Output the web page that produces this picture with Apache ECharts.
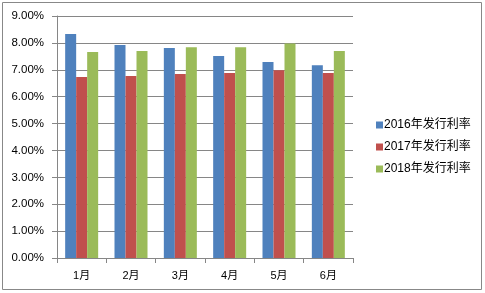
<!DOCTYPE html>
<html><head><meta charset="utf-8">
<script src="https://cdn.jsdelivr.net/npm/echarts@6/dist/echarts.min.js"></script>
<style>html,body{margin:0;padding:0;background:#fff}#c{width:485px;height:293px}</style>
</head><body><div id="c"></div>
<script>
const categories = ['1月','2月','3月','4月','5月','6月'];
const seriesNames = ['2016年发行利率','2017年发行利率','2018年发行利率'];
const s2016 = [8.33, 7.92, 7.81, 7.51, 7.29, 7.17];
const s2017 = [6.73, 6.77, 6.84, 6.88, 6.98, 6.88];
const s2018 = [7.66, 7.70, 7.84, 7.84, 7.98, 7.70];
const colors = ['#4F81BD','#C0504D','#9BBB59'];
const yTicks = {min: 0, max: 9, interval: 1};

const chart = echarts.init(document.getElementById('c'));
const font = '"Liberation Sans", "Noto Sans CJK SC", sans-serif';
chart.setOption({
  animation: false,
  graphic: [{type:'rect', shape:{x:2.5,y:2.5,width:479,height:287}, style:{fill:'none', stroke:'#888', lineWidth:1}}],
  grid: {left: 57, right: 132, top: 16, bottom: 35},
  legend: {
    orient: 'vertical', left: 371, top: 114, itemWidth: 7, itemHeight: 7, itemGap: 10,
    icon: 'rect',
    textStyle: {fontSize: 12, color: '#000', fontFamily: font, padding:[0,0,0,-4]},
    data: seriesNames
  },
  xAxis: {
    type: 'category', data: categories,
    axisLine: {lineStyle: {color: '#868686'}},
    axisTick: {show: true, length: 5, lineStyle: {color: '#868686'}},
    axisLabel: {color: '#000', fontSize: 11, fontFamily: font, margin: 12}
  },
  yAxis: {
    type: 'value', min: yTicks.min, max: yTicks.max, interval: yTicks.interval,
    axisLine: {show: true, lineStyle: {color: '#868686'}},
    axisTick: {show: true, length: 5, lineStyle: {color: '#868686'}},
    splitLine: {lineStyle: {color: '#868686'}},
    axisLabel: {color: '#000', fontSize: 11.5, fontFamily: font, margin: 13,
      formatter: v => v.toFixed(2) + '%'}
  },
  series: [s2016, s2017, s2018].map((d, i) => ({
    name: seriesNames[i], type: 'bar', data: d, barWidth: 11, barGap: '0%',
    itemStyle: {color: colors[i]}
  }))
});
</script></body></html>
